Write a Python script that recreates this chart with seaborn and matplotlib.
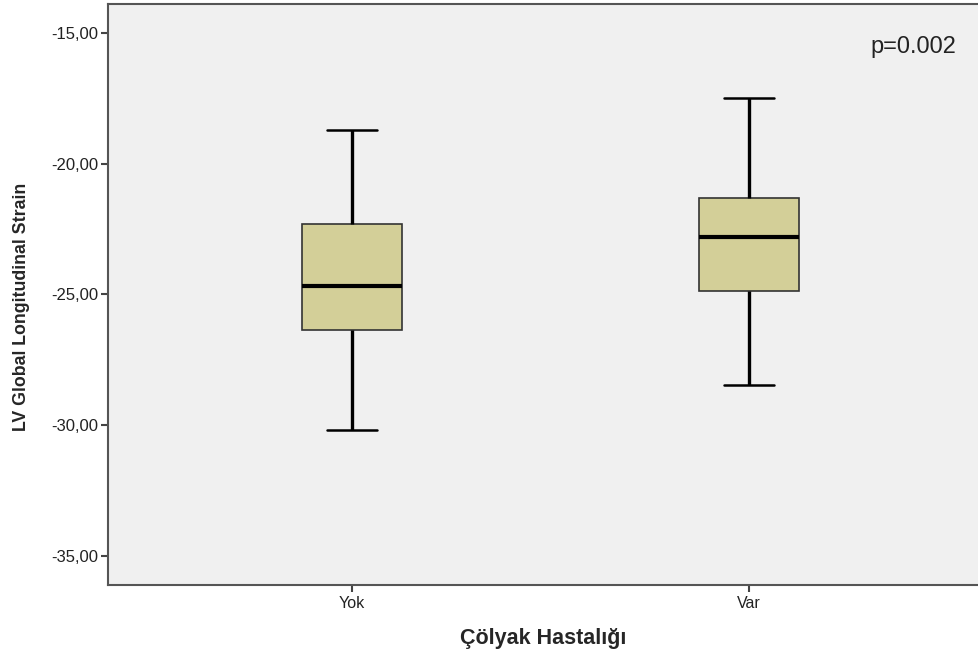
import matplotlib
matplotlib.use('Agg')
import matplotlib.pyplot as plt
import matplotlib.ticker as mticker
import pandas as pd
import seaborn as sns

# five-number summaries (min, Q1, median, Q3, max)
groups = ['Yok', 'Var']
yok_values = [-30.18, -26.36, -24.67, -22.30, -18.71]
var_values = [-28.46, -24.87, -22.80, -21.31, -17.49]
y_ticks = [-35, -30, -25, -20, -15]
p_text = 'p=0.002'

df = pd.DataFrame({
    'grup': [groups[0]] * len(yok_values) + [groups[1]] * len(var_values),
    'strain': yok_values + var_values,
})

sns.set_style('white')
plt.rcParams['font.family'] = ['Liberation Sans', 'DejaVu Sans']

fig = plt.figure(figsize=(9.79, 6.51), dpi=100)
ax = fig.add_axes([0.1103, 0.1014, 0.8897, 0.8925])
ax.set_facecolor('#f0f0f0')

sns.boxplot(data=df, x='grup', y='strain', order=groups, ax=ax,
            color='#d3cf98', saturation=1, width=0.252, whis=1.5,
            linewidth=1.2, linecolor='#222222',
            whiskerprops=dict(color='black', linewidth=2.4),
            capprops=dict(color='black', linewidth=1.8),
            medianprops=dict(color='black', linewidth=3),
            boxprops=dict(edgecolor='#333333', linewidth=1.2),
            showfliers=False)

ax.set_xlim(-0.615, 1.579)
ax.set_ylim(-36.11, -13.89)
ax.set_yticks(y_ticks)
ax.yaxis.set_major_formatter(mticker.FuncFormatter(
    lambda v, pos: f'{v:.2f}'.replace('.', ',')))

for side in ['top', 'left', 'bottom']:
    ax.spines[side].set_color('#555555')
    ax.spines[side].set_linewidth(1.5)
ax.spines['right'].set_visible(False)

ax.tick_params(axis='both', which='major', length=5, width=1.5,
               color='#444444', labelsize=12, labelcolor='#222222',
               bottom=True, left=True, pad=2)
ax.tick_params(axis='x', labelsize=11.5, pad=3)

ax.set_xlabel('Çölyak Hastalığı', fontsize=15.5, fontweight='bold', labelpad=12)
ax.set_ylabel('LV Global Longitudinal Strain', fontsize=12.8,
              fontweight='bold')
ax.yaxis.set_label_coords(-0.089, 0.478)

ax.text(0.974, 0.926, p_text, transform=ax.transAxes, ha='right',
        va='center', fontsize=17, color='#222222')

plt.savefig('out.png', dpi=100)
